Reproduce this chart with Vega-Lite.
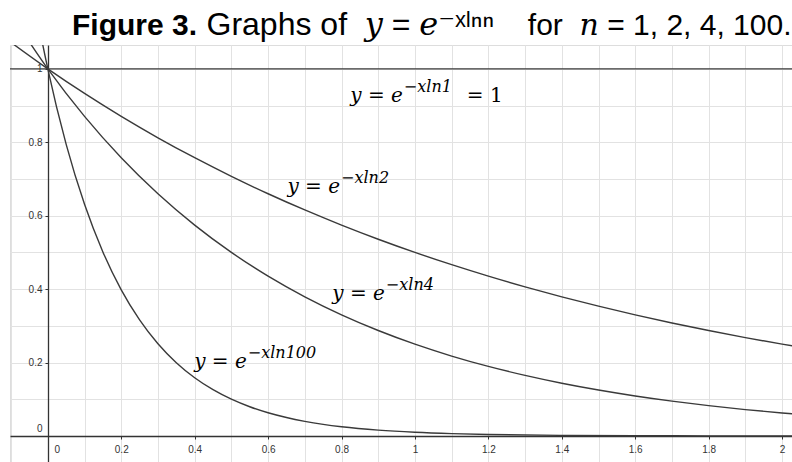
{
  "$schema": "https://vega.github.io/schema/vega-lite/v6.json",
  "width": 782,
  "height": 417,
  "autosize": {"type": "none"},
  "padding": {"left": 10, "top": 45, "right": 0, "bottom": 0},
  "background": "white",
  "title": {
    "text": "Figure 3.",
    "anchor": "start",
    "frame": "group",
    "dx": 62,
    "offset": -33,
    "font": "Liberation Sans",
    "fontSize": 30,
    "fontWeight": "bold",
    "color": "#000000"
  },
  "datasets": {
    "curves": [
      {"n": "1", "x": -0.11, "y": 1},
      {"n": "1", "x": 2.05, "y": 1},
      {"n": "2", "x": -0.1, "y": 1.07177},
      {"n": "2", "x": 0.0, "y": 1.0},
      {"n": "2", "x": 0.1, "y": 0.93303},
      {"n": "2", "x": 0.2, "y": 0.87055},
      {"n": "2", "x": 0.3, "y": 0.81225},
      {"n": "2", "x": 0.4, "y": 0.75786},
      {"n": "2", "x": 0.5, "y": 0.70711},
      {"n": "2", "x": 0.6, "y": 0.65975},
      {"n": "2", "x": 0.7, "y": 0.61557},
      {"n": "2", "x": 0.8, "y": 0.57435},
      {"n": "2", "x": 0.9, "y": 0.53589},
      {"n": "2", "x": 1.0, "y": 0.5},
      {"n": "2", "x": 1.1, "y": 0.46652},
      {"n": "2", "x": 1.2, "y": 0.43528},
      {"n": "2", "x": 1.3, "y": 0.40613},
      {"n": "2", "x": 1.4, "y": 0.37893},
      {"n": "2", "x": 1.5, "y": 0.35355},
      {"n": "2", "x": 1.6, "y": 0.32988},
      {"n": "2", "x": 1.7, "y": 0.30779},
      {"n": "2", "x": 1.8, "y": 0.28717},
      {"n": "2", "x": 1.9, "y": 0.26794},
      {"n": "2", "x": 2.0, "y": 0.25},
      {"n": "2", "x": 2.1, "y": 0.23326},
      {"n": "4", "x": -0.1, "y": 1.1487},
      {"n": "4", "x": 0.0, "y": 1.0},
      {"n": "4", "x": 0.1, "y": 0.87055},
      {"n": "4", "x": 0.2, "y": 0.75786},
      {"n": "4", "x": 0.3, "y": 0.65975},
      {"n": "4", "x": 0.4, "y": 0.57435},
      {"n": "4", "x": 0.5, "y": 0.5},
      {"n": "4", "x": 0.6, "y": 0.43528},
      {"n": "4", "x": 0.7, "y": 0.37893},
      {"n": "4", "x": 0.8, "y": 0.32988},
      {"n": "4", "x": 0.9, "y": 0.28717},
      {"n": "4", "x": 1.0, "y": 0.25},
      {"n": "4", "x": 1.1, "y": 0.21764},
      {"n": "4", "x": 1.2, "y": 0.18946},
      {"n": "4", "x": 1.3, "y": 0.16494},
      {"n": "4", "x": 1.4, "y": 0.14359},
      {"n": "4", "x": 1.5, "y": 0.125},
      {"n": "4", "x": 1.6, "y": 0.10882},
      {"n": "4", "x": 1.7, "y": 0.09473},
      {"n": "4", "x": 1.8, "y": 0.08247},
      {"n": "4", "x": 1.9, "y": 0.07179},
      {"n": "4", "x": 2.0, "y": 0.0625},
      {"n": "4", "x": 2.1, "y": 0.05441},
      {"n": "100", "x": -0.1, "y": 1.58489},
      {"n": "100", "x": -0.05, "y": 1.25893},
      {"n": "100", "x": 0.0, "y": 1.0},
      {"n": "100", "x": 0.05, "y": 0.79433},
      {"n": "100", "x": 0.1, "y": 0.63096},
      {"n": "100", "x": 0.15, "y": 0.50119},
      {"n": "100", "x": 0.2, "y": 0.39811},
      {"n": "100", "x": 0.25, "y": 0.31623},
      {"n": "100", "x": 0.3, "y": 0.25119},
      {"n": "100", "x": 0.35, "y": 0.19953},
      {"n": "100", "x": 0.4, "y": 0.15849},
      {"n": "100", "x": 0.45, "y": 0.12589},
      {"n": "100", "x": 0.5, "y": 0.1},
      {"n": "100", "x": 0.55, "y": 0.07943},
      {"n": "100", "x": 0.6, "y": 0.0631},
      {"n": "100", "x": 0.65, "y": 0.05012},
      {"n": "100", "x": 0.7, "y": 0.03981},
      {"n": "100", "x": 0.75, "y": 0.03162},
      {"n": "100", "x": 0.8, "y": 0.02512},
      {"n": "100", "x": 0.9, "y": 0.01585},
      {"n": "100", "x": 1.0, "y": 0.01},
      {"n": "100", "x": 1.1, "y": 0.00631},
      {"n": "100", "x": 1.2, "y": 0.00398},
      {"n": "100", "x": 1.4, "y": 0.00158},
      {"n": "100", "x": 1.6, "y": 0.00063},
      {"n": "100", "x": 1.8, "y": 0.00025},
      {"n": "100", "x": 2.0, "y": 0.0001},
      {"n": "100", "x": 2.1, "y": 0.00006}
    ],
    "labels": [
      {"n": "1", "x": 0.967, "y": 0.91, "base": "y = e", "exp": "−xln1", "tail": "= 1"},
      {"n": "2", "x": 0.796, "y": 0.662, "base": "y = e", "exp": "−xln2", "tail": ""},
      {"n": "4", "x": 0.918, "y": 0.371, "base": "y = e", "exp": "−xln4", "tail": ""},
      {"n": "100", "x": 0.542, "y": 0.185, "base": "y = e", "exp": "−xln100", "tail": ""}
    ]
  },
  "encoding": {
    "x": {
      "field": "x",
      "type": "quantitative",
      "scale": {"domain": [-0.103, 2.027], "nice": false, "zero": false},
      "axis": {
        "orient": "bottom",
        "offset": -26,
        "title": "for\u00a0 𝑛 = 1, 2, 4, 100.",
        "titleFont": "Liberation Sans, DejaVu Serif",
        "titleFontSize": 30,
        "titleFontWeight": "normal",
        "titleColor": "#000000",
        "titleAngle": 0,
        "titleAlign": "right",
        "titleBaseline": "alphabetic",
        "titleX": 781,
        "titleY": -402,
        "values": [-0.1, 0, 0.1, 0.2, 0.3, 0.4, 0.5, 0.6, 0.7, 0.8, 0.9, 1, 1.1, 1.2, 1.3, 1.4, 1.5, 1.6, 1.7, 1.8, 1.9, 2],
        "labelExpr": "abs(round(datum.value * 10)) % 2 == 1 ? '' : format(datum.value, '.1~f')",
        "labelFont": "Liberation Sans",
        "labelFontSize": 10,
        "labelColor": "#333333",
        "labelPadding": 5,
        "labelOffset": {"condition": {"test": "datum.value == 0", "value": 9}, "value": 0},
        "labelFlush": false,
        "labelOverlap": false,
        "tickSize": 3,
        "tickColor": {"condition": {"test": "abs(round(datum.value * 10)) % 2 == 1", "value": "transparent"}, "value": "#333333"},
        "domainColor": "#333333",
        "domainWidth": 1.3,
        "grid": true,
        "gridColor": "#e2e2e2",
        "gridWidth": 1
      }
    },
    "y": {
      "field": "y",
      "type": "quantitative",
      "scale": {"domain": [-0.071, 1.065], "nice": false, "zero": false},
      "axis": {
        "orient": "left",
        "offset": -38,
        "title": "Graphs of\u00a0 𝑦 = 𝑒⁻ˣˡⁿⁿ",
        "titleFont": "Liberation Sans, DejaVu Serif",
        "titleFontSize": 32,
        "titleFontWeight": "normal",
        "titleColor": "#000000",
        "titleAngle": 0,
        "titleAlign": "left",
        "titleBaseline": "alphabetic",
        "titleX": 158,
        "titleY": -11,
        "values": [0, 0.1, 0.2, 0.3, 0.4, 0.5, 0.6, 0.7, 0.8, 0.9, 1],
        "labelExpr": "abs(round(datum.value * 10)) % 2 == 1 ? '' : format(datum.value, '.1~f')",
        "labelFont": "Liberation Sans",
        "labelFontSize": 10,
        "labelColor": "#333333",
        "labelPadding": 3,
        "labelOffset": {"condition": {"test": "datum.value == 0", "value": -7}, "value": 0},
        "labelFlush": false,
        "labelOverlap": false,
        "tickSize": 3,
        "tickColor": {"condition": {"test": "abs(round(datum.value * 10)) % 2 == 1", "value": "transparent"}, "value": "#333333"},
        "domainColor": "#333333",
        "domainWidth": 1.3,
        "grid": true,
        "gridColor": "#e2e2e2",
        "gridWidth": 1
      }
    }
  },
  "layer": [
    {
      "data": {"name": "curves"},
      "mark": {"type": "line", "color": "#3a3a3a", "strokeWidth": 1.4, "interpolate": "monotone", "clip": true},
      "encoding": {"detail": {"field": "n"}}
    },
    {
      "data": {"name": "labels"},
      "mark": {"type": "text", "align": "right", "baseline": "alphabetic", "font": "DejaVu Serif", "fontStyle": "italic", "fontSize": 20, "color": "#000000"},
      "encoding": {"text": {"field": "base"}}
    },
    {
      "data": {"name": "labels"},
      "mark": {"type": "text", "align": "left", "baseline": "alphabetic", "dx": 1, "dy": -10, "font": "DejaVu Serif", "fontStyle": "italic", "fontSize": 16, "color": "#000000"},
      "encoding": {"text": {"field": "exp"}}
    },
    {
      "data": {"name": "labels"},
      "mark": {"type": "text", "align": "left", "baseline": "alphabetic", "dx": 64, "font": "DejaVu Serif", "fontSize": 20, "color": "#000000"},
      "encoding": {"text": {"field": "tail"}}
    }
  ]
}
